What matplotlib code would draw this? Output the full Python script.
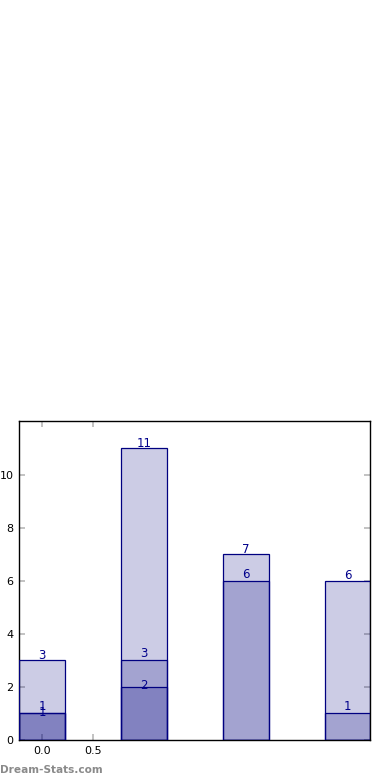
import matplotlib
matplotlib.use("Agg")
import matplotlib.pyplot as plt

categories = [0, 1, 2, 3]
series_a = [3, 11, 7, 6]
series_b = [1, 3, 6, 1]
series_c = [1, 2, 0, 0]
xtick_vals = [0.0, 0.5]
ytick_vals = [0, 2, 4, 6, 8, 10]

navy = "#000080"
fig = plt.figure(figsize=(3.9, 7.8), dpi=100)
ax = fig.add_axes([19.3/390, 40/780, 351/390, 318.7/780])

width = 0.45
offsets = [0.2, 0.25, 0.05]
for vals, off in zip([series_a, series_b, series_c], offsets):
    ax.bar(categories, vals, width=width, color=navy, alpha=0.2,
           edgecolor="none", zorder=2)
    ax.bar(categories, vals, width=width, facecolor="none",
           edgecolor=navy, linewidth=0.9, zorder=3)
    for x, v in zip(categories, vals):
        if v > 0:
            ax.text(x, v + off, str(v), ha="center", va="center",
                    fontsize=8.5, color="#00008b", zorder=4)

ax.set_xlim(-0.225, 3.225)
ax.set_ylim(0, 12.02)
ax.set_xticks(xtick_vals)
ax.set_xticklabels(["0.0", "0.5"])
ax.set_yticks(ytick_vals)
ax.tick_params(direction="in", length=4, color="#b8b8b8", width=1.2,
               labelsize=8, labelcolor="black", top=True, right=True, pad=4)
for s in ax.spines.values():
    s.set_linewidth(1.0)
    s.set_color("black")

fig.text(0.0, 0.0125, "Dream-Stats.com", fontsize=7.6, color="#8a8a8a",
         fontweight="bold", ha="left", va="center")

fig.savefig("out.png", dpi=100)
